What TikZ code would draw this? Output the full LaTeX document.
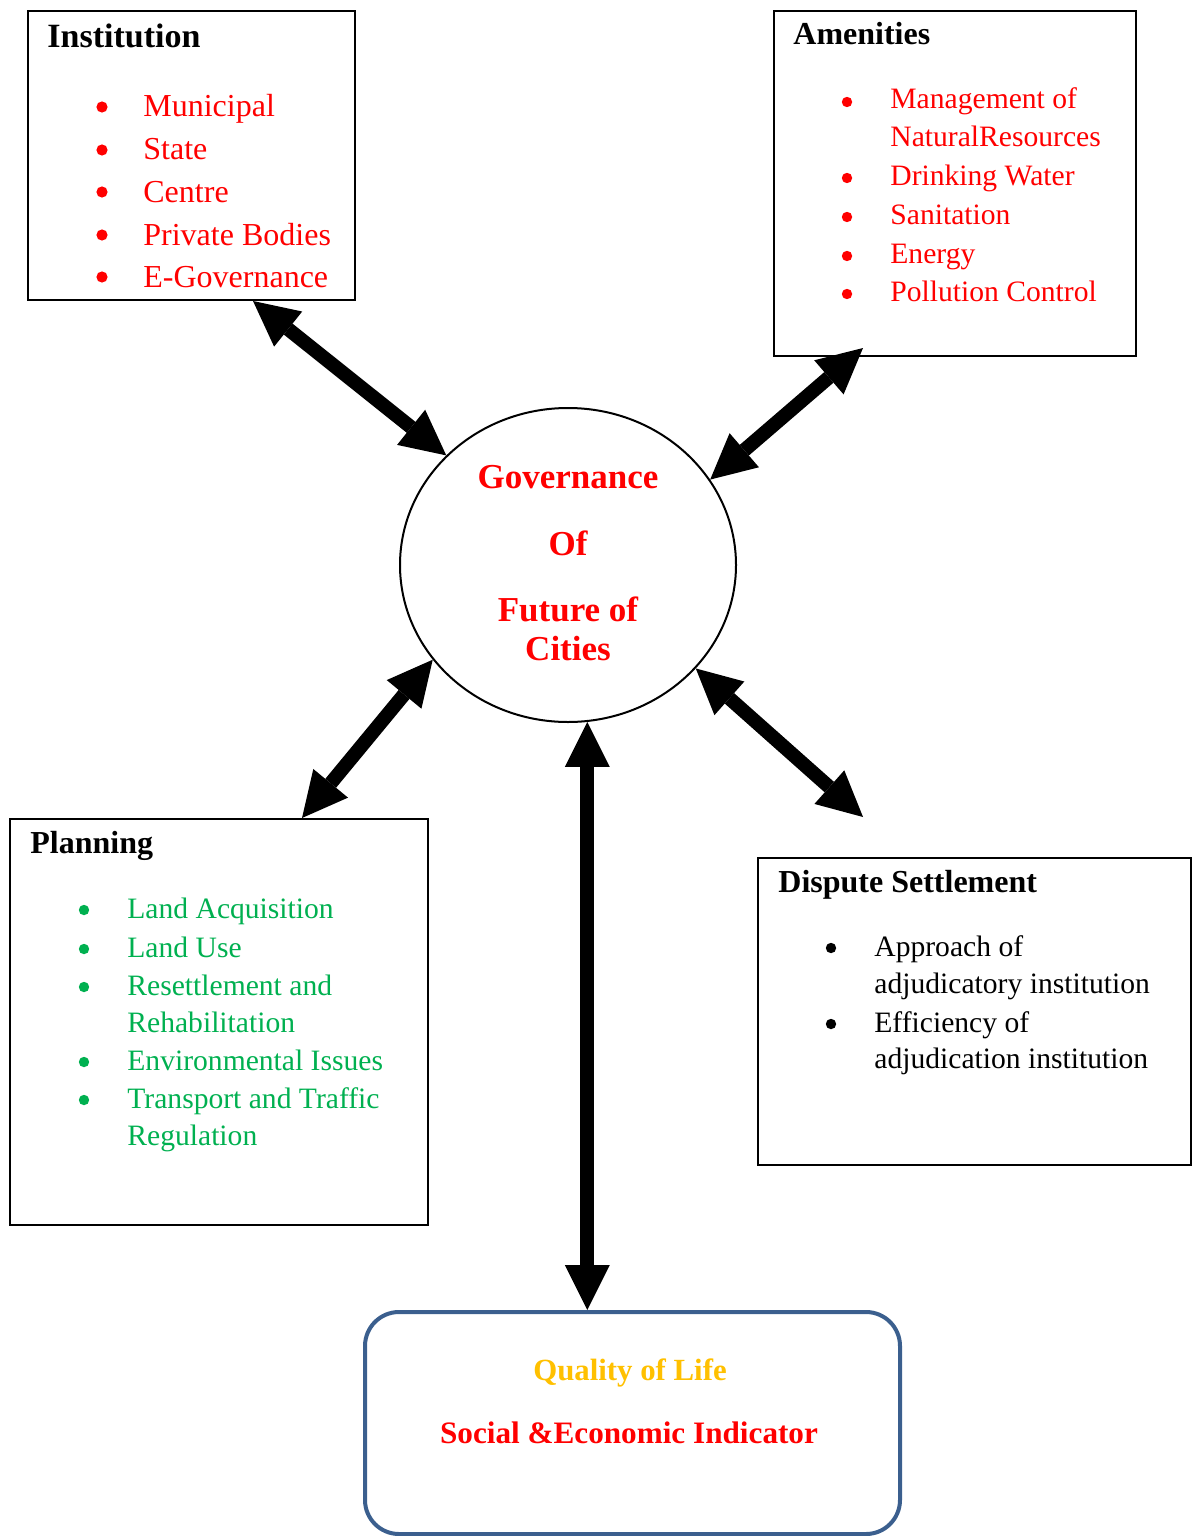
\documentclass[tikz,border=0pt]{standalone}
\usepackage{fontspec}
\setmainfont{Liberation Serif}
\usetikzlibrary{arrows.meta,shapes.geometric,calc}
\definecolor{cred}{HTML}{FF0000}
\definecolor{cgreen}{HTML}{00B050}
\definecolor{cgold}{HTML}{FFC000}
\definecolor{cblue}{HTML}{3B5F8E}
\begin{document}
\begin{tikzpicture}[x=0.5pt,y=-0.5pt,
  frame/.style={draw, line width=1pt, anchor=north west, inner sep=0pt},
  head/.style={anchor=base west, inner sep=0pt, font=\fontsize{16}{19}\selectfont\bfseries},
  itm/.style={anchor=base west, inner sep=0pt, font=\fontsize{14.8}{18}\selectfont},
  bigitm/.style={anchor=base west, inner sep=0pt, font=\fontsize{16}{19}\selectfont},
  bul/.style={circle, inner sep=0pt, minimum size=5.2pt, draw=none, fill=#1},
  bul/.default=black,
  ctr/.style={anchor=base, inner sep=0pt, font=\fontsize{17.5}{21}\selectfont\bfseries, text=cred},
  biarrow/.style={line width=7pt,
    {Triangle[length=22.5pt,width=22.5pt,line width=0pt]}-{Triangle[length=22.5pt,width=22.5pt,line width=0pt]}}
]
\useasboundingbox (0,0) rectangle (1191,1536);

% boxes
\node[frame, minimum width=163.5pt, minimum height=144.5pt] (inst) at (27,10) {};
\node[frame, minimum width=181pt, minimum height=172.5pt] (amen) at (773,10) {};
\node[frame, minimum width=209pt, minimum height=203pt] (plan) at (9,818) {};
\node[frame, minimum width=216.5pt, minimum height=153.5pt] (disp) at (757,857) {};
\node[draw=cblue, line width=2pt, rounded corners=17pt, anchor=north west, inner sep=0pt,
      minimum width=267.5pt, minimum height=111pt] (qol) at (363,1310) {};
\node[draw, line width=1pt, ellipse, inner sep=0pt, minimum width=168pt, minimum height=157pt] (gov) at (568,565) {};

% Institution
\node[head, font=\fontsize{17}{20}\selectfont\bfseries] (insth) at (47,48) {Institution};
\foreach \yy/\tt [count=\i] in {117/Municipal, 160/State, 202/Centre, 245/Private Bodies, 287/E-Governance}{
  \node[bul=cred, minimum size=5.6pt] (ib\i) at (102,\yy-10) {};
  \node[bigitm, text=cred] (it\i) at (143,\yy) {\tt};
}

% Amenities
\node[head] (amenh) at (793,45) {Amenities};
\foreach \yy in {109,185,224,263,301}{
  \node[bul=cred] (ab\yy) at (847,\yy-7) {};
}
\foreach \yy/\tt [count=\i] in {109/Management of, 147/NaturalResources, 185/Drinking Water, 224/Sanitation, 263/Energy, 301/Pollution Control}{
  \node[itm, text=cred] (at\i) at (890,\yy) {\tt};
}

% Planning
\node[head] (planh) at (30,853) {Planning};
\foreach \yy in {918,957,995,1070,1108}{
  \node[bul=cgreen] (pb\yy) at (84,\yy-8) {};
}
\foreach \yy/\tt [count=\i] in {918/Land Acquisition, 957/Land Use, 995/Resettlement and, 1032/Rehabilitation, 1070/Environmental Issues, 1108/Transport and Traffic, 1145/Regulation}{
  \node[itm, text=cgreen] (pt\i) at (127,\yy) {\tt};
}

% Dispute Settlement
\node[head] (disph) at (778,892) {Dispute Settlement};
\foreach \yy in {956,1032}{
  \node[bul] (db\yy) at (831,\yy-8) {};
}
\foreach \yy/\tt [count=\i] in {956/Approach of, 993/adjudicatory institution, 1032/Efficiency of, 1068/adjudication institution}{
  \node[itm] (dt\i) at (874,\yy) {\tt};
}

% Centre text
\node[ctr] (g1) at (568,488) {Governance};
\node[ctr] (g2) at (568,555) {Of};
\node[ctr] (g3) at (568,621) {Future of};
\node[ctr] (g4) at (568,660) {Cities};

% Quality of life
\node[anchor=base, inner sep=0pt, font=\fontsize{15.4}{18}\selectfont\bfseries, text=cgold] (q1) at (630,1380) {Quality of Life};
\node[anchor=base, inner sep=0pt, font=\fontsize{15.6}{18}\selectfont\bfseries, text=cred] (q2) at (629,1443) {Social \&Economic Indicator};

% arrows
\coordinate (dispend) at ([xshift=53pt,yshift=20pt]disp.north west);
\draw[biarrow] ([xshift=113pt]inst.south west) -- (gov.138);
\draw[biarrow] ([xshift=45pt,yshift=4.5pt]amen.south west) -- (gov.31);
\draw[biarrow] ([xshift=146.5pt]plan.north west) -- (gov.215);
\draw[biarrow] (dispend) -- (gov.321);
\draw[biarrow] (gov.277) -- (gov.277 |- qol.north);
\end{tikzpicture}
\end{document}
